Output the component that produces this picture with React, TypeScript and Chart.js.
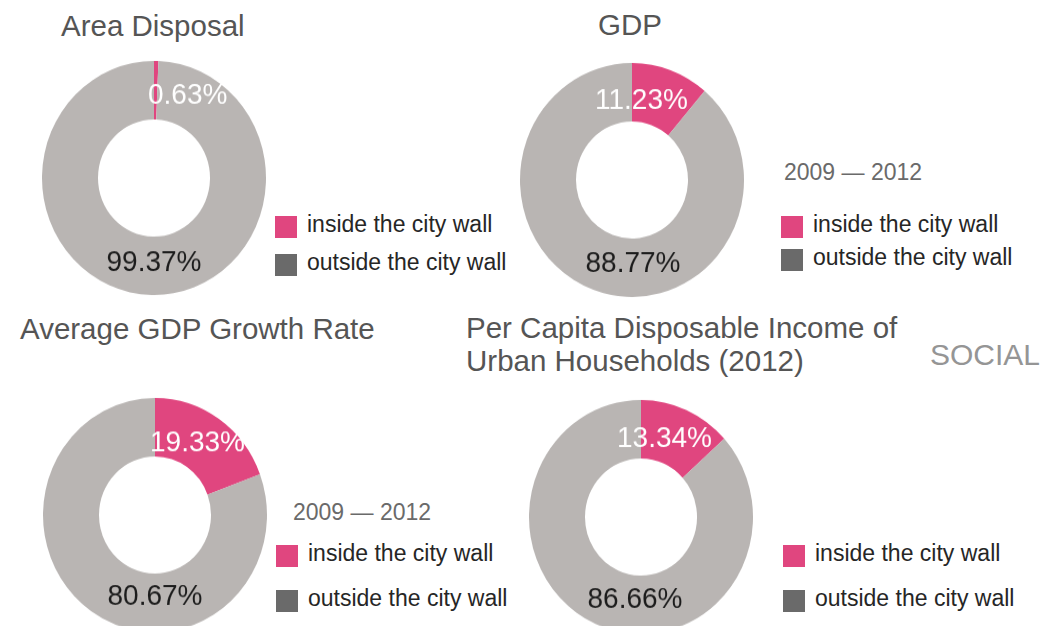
import React, { useEffect, useRef } from 'react';
import { Chart, registerables } from 'chart.js';

Chart.register(...registerables);

// ---- data ----
const categories = ['inside the city wall', 'outside the city wall'];
const chartTitles = [
  'Area Disposal',
  'GDP',
  'Average GDP Growth Rate',
  'Per Capita Disposable Income of\nUrban Households (2012)',
];
const areaDisposal = [0.63, 99.37];
const gdpShare = [11.23, 88.77];
const gdpGrowthRate = [19.33, 80.67];
const incomePerCapita = [13.34, 86.66];
const periodLabel = '2009 — 2012';
const sideLabel = 'SOCIAL';

// ---- style ----
const PINK = '#e0467f';
const RING_GRAY = '#b9b5b3';
const LEGEND_GRAY = '#6a6a6a';
const FONT = '"Liberation Sans", Arial, Helvetica, sans-serif';
const SIZE = 224;
const STRETCH = 1.045;

type LabelOpts = { wDx: number; wDy: number; bDx: number; bDy: number };

const sliceLabels = {
  id: 'sliceLabels',
  afterDatasetsDraw(chart: any, _args: any, opts: LabelOpts) {
    const meta = chart.getDatasetMeta(0);
    const values: number[] = chart.data.datasets[0].data;
    const arc = meta.data[0];
    if (!arc) return;
    const { x, y } = arc.getProps(['x', 'y'], true);
    const ctx = chart.ctx;
    const fs = 28;
    ctx.save();
    ctx.font = `${fs}px ${FONT}`;
    ctx.textBaseline = 'alphabetic';
    // inside label (white, near top)
    ctx.fillStyle = '#ffffff';
    ctx.textAlign = 'left';
    ctx.fillText(values[0].toFixed(2) + '%', x + opts.wDx, y + opts.wDy + 0.358 * fs);
    // outside label (dark, near bottom)
    ctx.fillStyle = '#1c1c1c';
    ctx.textAlign = 'center';
    ctx.fillText(values[1].toFixed(2) + '%', x + opts.bDx, y + opts.bDy + 0.358 * fs);
    ctx.restore();
  },
};

function Donut(props: { cx: number; cy: number; values: number[]; labels: LabelOpts }) {
  const ref = useRef<HTMLCanvasElement | null>(null);
  useEffect(() => {
    if (!ref.current) return;
    const chart = new Chart(ref.current, {
      type: 'doughnut',
      data: {
        labels: categories,
        datasets: [
          {
            data: props.values,
            backgroundColor: [PINK, RING_GRAY],
            borderWidth: 0,
          },
        ],
      },
      options: {
        responsive: false,
        animation: false,
        cutout: '50%',
        events: [],
        layout: { padding: 0 },
        plugins: {
          legend: { display: false },
          tooltip: { enabled: false },
          title: { display: false },
          sliceLabels: props.labels,
        } as any,
      },
      plugins: [sliceLabels],
    });
    return () => chart.destroy();
  }, []);
  return (
    <div
      style={{
        position: 'absolute',
        left: props.cx - SIZE / 2,
        top: props.cy - SIZE / 2,
        width: SIZE,
        height: SIZE,
        transform: `scaleY(${STRETCH})`,
        transformOrigin: 'center center',
      }}
    >
      <canvas ref={ref} width={SIZE} height={SIZE} style={{ width: SIZE, height: SIZE, display: 'block' }} />
    </div>
  );
}

function Txt(props: {
  x: number;
  capY: number;
  fs: number;
  color: string;
  text: string;
  ls?: number;
}) {
  return (
    <div
      style={{
        position: 'absolute',
        left: props.x,
        top: props.capY - 0.4885 * props.fs,
        fontSize: props.fs,
        lineHeight: `${props.fs}px`,
        color: props.color,
        whiteSpace: 'nowrap',
        letterSpacing: props.ls ? `${props.ls}px` : undefined,
      }}
    >
      {props.text}
    </div>
  );
}

function Legend(props: { x: number; y1: number; y2: number }) {
  const rows = [
    { y: props.y1, color: PINK, text: categories[0] },
    { y: props.y2, color: LEGEND_GRAY, text: categories[1] },
  ];
  return (
    <>
      {rows.map((r, i) => (
        <React.Fragment key={i}>
          <div
            style={{
              position: 'absolute',
              left: props.x,
              top: r.y,
              width: 22,
              height: 22,
              background: r.color,
            }}
          />
          <Txt x={props.x + 32} capY={r.y + 11 - 2.5} fs={23} color="#262626" text={r.text} />
        </React.Fragment>
      ))}
    </>
  );
}

export default function App() {
  const titleColor = '#555555';
  const titleLines = chartTitles[3].split('\n');
  return (
    <div
      style={{
        position: 'fixed',
        left: 0,
        top: 0,
        width: 1059,
        height: 626,
        overflow: 'hidden',
        background: '#ffffff',
        fontFamily: FONT,
      }}
    >
      <Txt x={61} capY={25} fs={29.5} color={titleColor} text={chartTitles[0]} />
      <Txt x={598} capY={24} fs={29.5} color={titleColor} text={chartTitles[1]} />
      <Txt x={20} capY={328} fs={29.5} color={titleColor} text={chartTitles[2]} />
      <Txt x={466} capY={327} fs={29.5} color={titleColor} text={titleLines[0]} />
      <Txt x={466} capY={360} fs={29.5} color={titleColor} text={titleLines[1]} />
      <Txt x={930} capY={355} fs={30} color="#959595" text={sideLabel} />

      <Donut cx={154} cy={178} values={areaDisposal} labels={{ wDx: -6, wDy: -81, bDx: 0, bDy: 79 }} />
      <Donut cx={632} cy={180} values={gdpShare} labels={{ wDx: -37, wDy: -78, bDx: 1, bDy: 78 }} />
      <Donut cx={155} cy={515} values={gdpGrowthRate} labels={{ wDx: -5, wDy: -71, bDx: 0, bDy: 76 }} />
      <Donut cx={641} cy={517} values={incomePerCapita} labels={{ wDx: -24, wDy: -77, bDx: -6, bDy: 77 }} />

      <Txt x={784} capY={172} fs={23} color="#6a6a6a" text={periodLabel} />
      <Txt x={293} capY={512} fs={23} color="#6a6a6a" text={periodLabel} />

      <Legend x={275} y1={216} y2={254} />
      <Legend x={781} y1={216} y2={249} />
      <Legend x={276} y1={545} y2={590} />
      <Legend x={783} y1={545} y2={590} />
    </div>
  );
}
